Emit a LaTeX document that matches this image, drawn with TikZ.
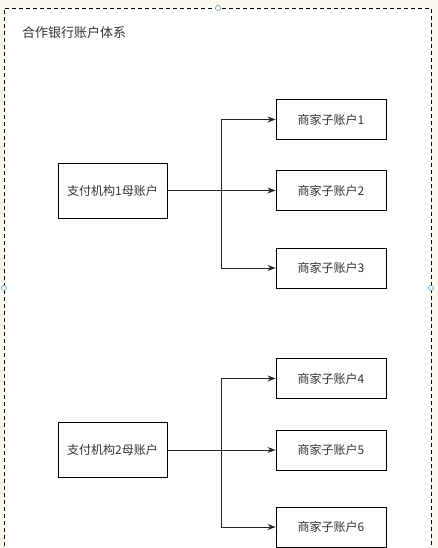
\documentclass[tikz,border=0pt]{standalone}
\usepackage{fontspec}
\setmainfont{Noto Sans CJK SC}
\usetikzlibrary{arrows.meta}
\definecolor{bgcream}{HTML}{FBF7EC}
\definecolor{txt}{HTML}{333333}
\definecolor{handle}{HTML}{5E9CC4}
\begin{document}
\begin{tikzpicture}[x=1pt,y=-1pt,
  acct/.style={draw=black,line width=0.9pt,minimum width=109pt,inner sep=0pt,text=txt,font=\fontsize{12}{14}\selectfont},
  parent/.style={acct,minimum height=55pt},
  child/.style={acct,minimum height=40pt,minimum width=110pt},
  link/.style={line width=0.8pt,draw=black!85},
  arr/.style={link,-{Stealth[length=8pt,width=6pt]}},
  hdl/.style={draw=handle,fill=white,line width=0.6pt}]
\useasboundingbox (0,0) rectangle (438,548);
\fill[bgcream] (0,0) rectangle (438,548);
\fill[white] (4,8) rectangle (431,560);
\draw[dashed,line width=0.8pt,dash pattern=on 4pt off 3pt] (4,560) -- (4,8) -- (431,8) -- (431,560);
\node[anchor=west,text=txt,font=\fontsize{13}{15}\selectfont,inner sep=0pt] (title) at (22,33) {合作银行账户体系};
\node[parent] (p1) at (112.5,190.5) {支付机构1母账户};
\node[child] (c1) at (331,119.5) {商家子账户1};
\node[child] (c2) at (331,190.5) {商家子账户2};
\node[child] (c3) at (331,268) {商家子账户3};
\node[parent] (p2) at (112.5,450) {支付机构2母账户};
\node[child] (c4) at (331,378.5) {商家子账户4};
\node[child] (c5) at (331,450) {商家子账户5};
\node[child] (c6) at (331,527) {商家子账户6};
\coordinate (j1) at (221,190.5);
\coordinate (j2) at (221,450);
\draw[arr] (p1.east) -- (c2.west);
\draw[arr] (j1) |- (c1.west);
\draw[arr] (j1) |- (c3.west);
\draw[arr] (p2.east) -- (c5.west);
\draw[arr] (j2) |- (c4.west);
\draw[arr] (j2) |- (c6.west);
\draw[hdl] (218,8) circle (2.5);
\draw[hdl] (4,288) circle (2.5);
\draw[hdl] (431,288) circle (2.5);
\end{tikzpicture}
\end{document}
